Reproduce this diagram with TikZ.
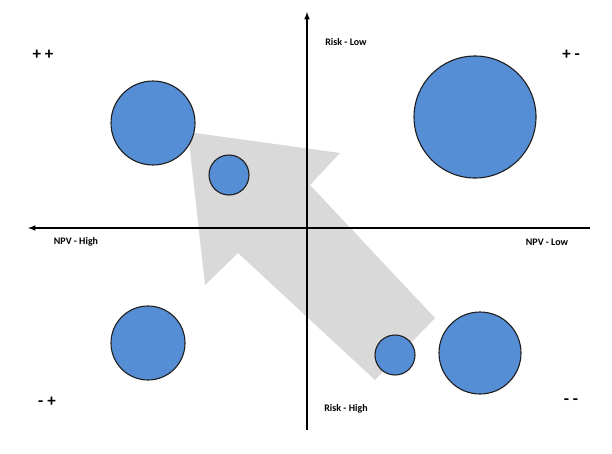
\documentclass[tikz,border=0pt]{standalone}
\usepackage{fontspec}
\setmainfont{Carlito}
\usetikzlibrary{arrows}
\definecolor{bubblefill}{RGB}{85,142,213}
\definecolor{bubbleline}{RGB}{30,30,30}
\definecolor{arrowgray}{RGB}{217,217,217}

\begin{document}
\begin{tikzpicture}[x=1pt,y=1pt,yscale=-1,xscale=1]
  \tikzset{
    bubble/.style={draw=bubbleline, line width=1.1pt, fill=bubblefill},
    axislabel/.style={font=\bfseries\fontsize{10}{12}\selectfont, inner sep=0.75pt},
    quadlabel/.style={font=\bfseries\fontsize{17}{20}\selectfont, inner sep=0.75pt}
  }
  \useasboundingbox (0,0) rectangle (612,453);
  
  %Shape: Big arrow
  \fill [arrowgray] (188,132) -- (340,153) -- (310,185) -- (435,318) -- (375,380) -- (238,253) -- (205,285) -- cycle ;
  
  %Axes
  \coordinate (ybot) at (307,430);
  \coordinate (ytop) at (307,12);
  \coordinate (xright) at (590,228);
  \coordinate (xleft) at (28,228);
  \draw [line width=1.5pt, -latex] (ybot) -- (ytop) ;
  \draw [line width=1.5pt, -latex] (xright) -- (xleft) ;
  
  %Bubbles
  \draw [bubble] (153,123) circle (42) ;
  \draw [bubble] (229,175) circle (20) ;
  \draw [bubble] (475,117) circle (61) ;
  \draw [bubble] (148,343) circle (37) ;
  \draw [bubble] (395,355) circle (20) ;
  \draw [bubble] (480,353) circle (41) ;
  
  % Text Node
  \node [axislabel] (risklow) at (346,42) {Risk - Low};
  % Text Node
  \node [axislabel] (riskhigh) at (346,409) {Risk - High};
  % Text Node
  \node [axislabel] (npvhigh) at (76,242) {NPV - High};
  % Text Node
  \node [axislabel] (npvlow) at (547,242) {NPV - Low};
  % Text Node
  \node [quadlabel] (pp) at (43,55) {+ +};
  \node [quadlabel] (pm) at (571,55) {+ -};
  \node [quadlabel] (mp) at (47,402) {- +};
  \node [quadlabel] (mm) at (571,402) {- -};
\end{tikzpicture}
\end{document}
